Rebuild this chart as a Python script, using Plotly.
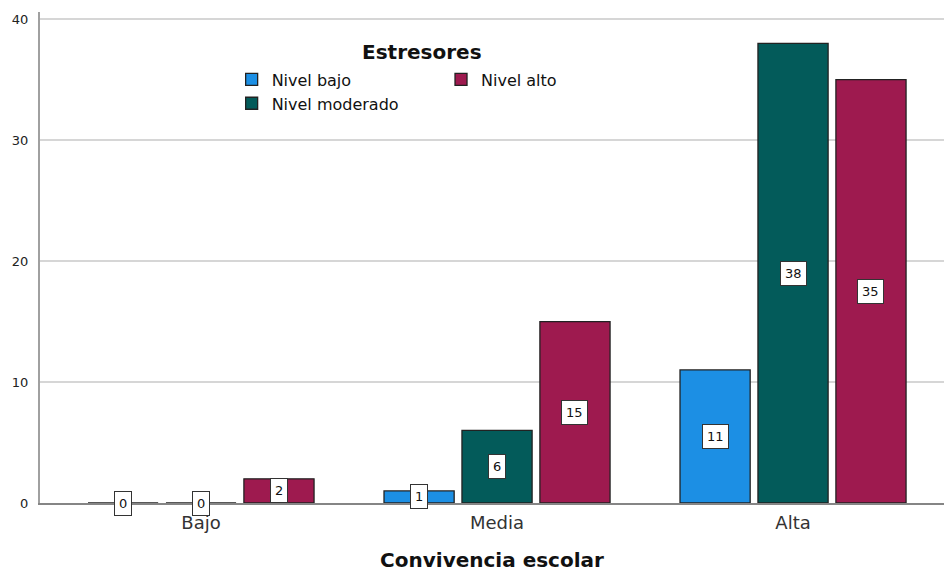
import plotly.graph_objects as go

categories = ["Bajo", "Media", "Alta"]
series_names = ["Nivel bajo", "Nivel moderado", "Nivel alto"]
nivel_bajo = [0, 1, 11]
nivel_moderado = [0, 6, 38]
nivel_alto = [2, 15, 35]
y_ticks = [0, 10, 20, 30, 40]

series_values = [nivel_bajo, nivel_moderado, nivel_alto]
colors = ["#1C8FE4", "#035B5A", "#9E1A4F"]
legend_ids = ["legend", "legend", "legend2"]

FONT = "DejaVu Sans"
bargap = 0.21
bargroupgap = 0.1
x_pos = list(range(len(categories)))

fig = go.Figure()
for name, vals, col, lg in zip(series_names, series_values, colors, legend_ids):
    fig.add_trace(go.Bar(
        x=x_pos, y=vals, name=name, legend=lg,
        marker=dict(color=col, line=dict(color="#222222", width=1.3)),
        hoverinfo="skip",
    ))

# value labels in white boxes
slot = (1 - bargap) / len(series_names)
annotations = []
for k, vals in enumerate(series_values):
    off = (k - (len(series_names) - 1) / 2) * slot
    for i, v in enumerate(vals):
        annotations.append(dict(
            x=x_pos[i] + off, y=v / 2, xref="x", yref="y",
            text=str(v), showarrow=False,
            font=dict(family=FONT, size=13, color="#111"),
            bgcolor="white", bordercolor="#333", borderwidth=1, borderpad=4,
        ))

annotations.append(dict(
    x=0.4222, y=0.9185, xref="paper", yref="paper",
    text="<b>Estresores</b>", showarrow=False,
    xanchor="center", yanchor="middle",
    font=dict(family=FONT, size=20, color="#111"),
))

fig.update_layout(
    width=944, height=572,
    margin=dict(l=40, r=0, t=12, b=69),
    paper_bgcolor="white", plot_bgcolor="white",
    barmode="group", bargap=bargap, bargroupgap=bargroupgap,
    font=dict(family=FONT, color="#222"),
    annotations=annotations,
    legend=dict(
        x=0.212, y=0.897, xanchor="left", yanchor="top",
        orientation="v", bgcolor="rgba(0,0,0,0)",
        font=dict(family=FONT, size=16, color="#111"),
        tracegroupgap=0, itemclick=False, itemdoubleclick=False,
    ),
    legend2=dict(
        x=0.4436, y=0.897, xanchor="left", yanchor="top",
        orientation="v", bgcolor="rgba(0,0,0,0)",
        font=dict(family=FONT, size=16, color="#111"),
        itemclick=False, itemdoubleclick=False,
    ),
    xaxis=dict(
        range=[-0.544, 2.51], automargin=False,
        tickmode="array", tickvals=x_pos, ticktext=categories,
        tickfont=dict(family=FONT, size=18, color="#333"),
        ticklabelstandoff=3,
        showgrid=False, zeroline=False,
        showline=True, linecolor="#858585", linewidth=1.5,
        ticks="",
        title=dict(text="<b>Convivencia escolar</b>", standoff=21,
                   font=dict(family=FONT, size=20, color="#111")),
    ),
    yaxis=dict(
        range=[0, 40.6], automargin=False,
        tickmode="array", tickvals=y_ticks,
        tickfont=dict(family=FONT, size=13, color="#222"),
        ticklabelstandoff=7,
        showgrid=True, gridcolor="#d6d6d6", gridwidth=1.5,
        zeroline=False,
        showline=True, linecolor="#a0a0a0", linewidth=2,
        ticks="",
    ),
)

fig.write_html(
    "out.html",
    config={"displayModeBar": False},
    post_script="document.body.style.margin='0';document.body.style.overflow='hidden';",
)
